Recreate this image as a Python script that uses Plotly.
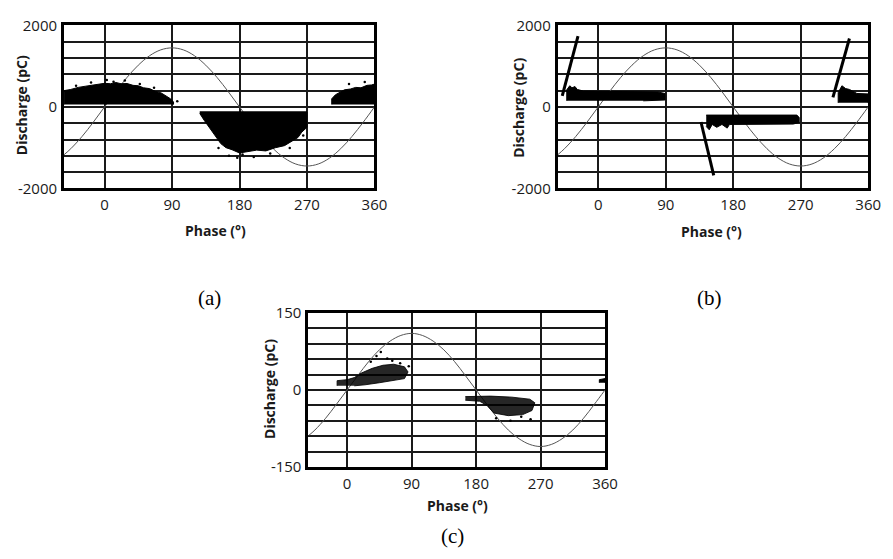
import plotly.graph_objects as go

# ---------------- data ----------------
phase_ref = [-54, -45, -30, -15, 0, 15, 30, 45, 60, 75, 90, 105, 120, 135, 150, 165,
             180, 195, 210, 225, 240, 255, 270, 285, 300, 315, 330, 345, 360]
ref_a = [-1173, -1025, -725, -375, 0, 375, 725, 1025, 1256, 1401, 1450, 1401, 1256, 1025, 725, 375,
         0, -375, -725, -1025, -1256, -1401, -1450, -1401, -1256, -1025, -725, -375, 0]
ref_b = [-1173, -1025, -725, -375, 0, 375, 725, 1025, 1256, 1401, 1450, 1401, 1256, 1025, 725, 375,
         0, -375, -725, -1025, -1256, -1401, -1450, -1401, -1256, -1025, -725, -375, 0]
ref_c = [-89, -78, -55, -28, 0, 28, 55, 78, 95, 106, 110, 106, 95, 78, 55, 28,
         0, -28, -55, -78, -95, -106, -110, -106, -95, -78, -55, -28, 0]

# (a) discharge clouds (outline of the dense regions)
a1_phase = [-54, -54, -45, -35, -25, -12, 0, 8, 15, 22, 30, 38, 45, 52, 60, 68, 75, 82, 88, 92, 92]
a1_q = [60, 400, 430, 480, 510, 550, 580, 570, 600, 570, 575, 530, 520, 470, 450, 380, 350, 270, 200, 120, 60]
a2_phase = [127, 270, 270, 263, 258, 250, 240, 228, 215, 203, 190, 180, 170, 162, 155, 147, 140, 133, 127]
a2_q = [-120, -120, -500, -620, -750, -830, -950, -1000, -1080, -1060, -1100, -1130, -1050, -1000, -900, -700, -500, -330, -160]
a3_phase = [303, 303, 308, 314, 320, 328, 335, 342, 350, 356, 360, 360]
a3_q = [60, 200, 300, 360, 420, 440, 480, 470, 530, 540, 560, 60]
# (a) stray points around the clouds
a_stray_phase = [-38, -18, 3, 12, 27, 47, 66, 97, 152, 166, 177, 184, 199, 221, 247, 265, 326, 347]
a_stray_q = [520, 600, 660, 620, 650, 560, 470, 140, -1010, -1200, -1250, -1170, -1230, -1140, -1010, -700, 560, 610]

# (b) discharge clouds
b1_phase = [-42, -42, -38, -35, -31, -28, -20, 0, 40, 80, 89, 89, 60]
b1_q = [150, 420, 520, 470, 500, 430, 390, 385, 375, 365, 330, 170, 150]
b2_phase = [144, 265, 268, 268, 260, 175, 172, 165, 158, 152, 148, 144]
b2_q = [-200, -200, -260, -380, -420, -430, -520, -430, -500, -430, -560, -480]
b3_phase = [320, 320, 325, 330, 335, 345, 360, 360]
b3_q = [100, 350, 520, 450, 430, 330, 320, 100]
b_streak1_phase = [-48, -27]
b_streak1_q = [270, 1740]
b_streak2_phase = [137, 154]
b_streak2_q = [-370, -1680]
b_streak3_phase = [313, 335]
b_streak3_q = [235, 1680]

# (c) discharge clouds
c1_phase = [-14, -14, 0, 10, 20, 35, 50, 65, 80, 85, 80, 65, 45, 25, 10]
c1_q = [8, 18, 20, 24, 33, 42, 48, 50, 45, 35, 22, 18, 14, 10, 8]
c2_phase = [165, 200, 230, 255, 262, 258, 245, 225, 205, 195, 185, 165]
c2_q = [-13, -12, -14, -18, -25, -40, -48, -50, -45, -30, -22, -20]
c3_phase = [352, 352, 360, 360]
c3_q = [14, 20, 22, 14]
c_stray_phase = [33, 41, 47, 56, 63, 74, 86, 208, 228, 243, 256]
c_stray_q = [55, 66, 74, 61, 57, 52, 46, -55, -60, -52, -57]

x_ticks = [0, 90, 180, 270, 360]
y_ticks_ab = [-2000, 0, 2000]
y_ticks_c = [-150, 0, 150]

# ---------------- figure ----------------
W, H = 893, 559
fig = go.Figure()

def cloud(xs, ys, xa, ya, color="black"):
    fig.add_trace(go.Scatter(x=xs, y=ys, xaxis=xa, yaxis=ya, mode="lines", fill="toself",
                             fillcolor=color, line=dict(color=color, width=1),
                             hoverinfo="skip", showlegend=False))

def ref(xs, ys, xa, ya):
    fig.add_trace(go.Scatter(x=xs, y=ys, xaxis=xa, yaxis=ya, mode="lines",
                             line=dict(color="#555555", width=1, shape="spline"),
                             hoverinfo="skip", showlegend=False))

def streak(xs, ys, xa, ya):
    fig.add_trace(go.Scatter(x=xs, y=ys, xaxis=xa, yaxis=ya, mode="lines",
                             line=dict(color="black", width=3),
                             hoverinfo="skip", showlegend=False))

def stray(xs, ys, xa, ya):
    fig.add_trace(go.Scatter(x=xs, y=ys, xaxis=xa, yaxis=ya, mode="markers",
                             marker=dict(color="black", size=2.5),
                             hoverinfo="skip", showlegend=False))

# panel a
ref(phase_ref, ref_a, "x", "y")
cloud(a1_phase, a1_q, "x", "y")
cloud(a2_phase, a2_q, "x", "y")
cloud(a3_phase, a3_q, "x", "y")
stray(a_stray_phase, a_stray_q, "x", "y")
# panel b
ref(phase_ref, ref_b, "x2", "y2")
cloud(b1_phase, b1_q, "x2", "y2")
cloud(b2_phase, b2_q, "x2", "y2")
cloud(b3_phase, b3_q, "x2", "y2")
streak(b_streak1_phase, b_streak1_q, "x2", "y2")
streak(b_streak2_phase, b_streak2_q, "x2", "y2")
streak(b_streak3_phase, b_streak3_q, "x2", "y2")
# panel c
ref(phase_ref, ref_c, "x3", "y3")
cloud(c1_phase, c1_q, "x3", "y3", "rgba(0,0,0,0.85)")
cloud(c2_phase, c2_q, "x3", "y3", "rgba(0,0,0,0.85)")
cloud(c3_phase, c3_q, "x3", "y3")
stray(c_stray_phase, c_stray_q, "x3", "y3")

tick_font = dict(family="Open Sans, Liberation Sans, sans-serif", size=15, color="#1a1a1a")
GRID = "#1a1a1a"

def xax(dom, anchor):
    return dict(domain=dom, anchor=anchor, range=[-54, 360], tickmode="array",
                tickvals=x_ticks, ticktext=[str(v) for v in x_ticks],
                showgrid=True, gridcolor=GRID, gridwidth=1.5, zeroline=False,
                showline=True, linecolor="black", linewidth=3, mirror=True,
                ticks="", tickfont=tick_font, ticklabelstandoff=1, fixedrange=True)

def yax(dom, anchor, rng, ticks, step):
    return dict(domain=dom, anchor=anchor, range=rng, tickmode="array",
                tickvals=ticks, ticktext=[str(v) for v in ticks],
                showgrid=True, gridcolor=GRID, gridwidth=1.5, zeroline=False,
                minor=dict(tickmode="linear", tick0=0, dtick=step, showgrid=True,
                           gridcolor=GRID, gridwidth=1.5, ticks=""),
                showline=True, linecolor="black", linewidth=3, mirror=True,
                ticks="", tickfont=tick_font, ticklabelstandoff=1, fixedrange=True)

dom_a_x = [65 / W, 380 / W]
dom_b_x = [566 / W, 881 / W]
dom_c_x = [313 / W, 614 / W]
dom_ab_y = [1 - 184 / H, 1 - 15 / H]
dom_c_y = [1 - 473 / H, 1 - 313 / H]

title_font = dict(family="Open Sans, Liberation Sans, sans-serif", size=14, color="#1a1a1a")
cap_font = dict(family="Liberation Serif, Times New Roman, serif", size=21, color="black")

def ann(text, x, y, font, angle=0, yanchor="middle"):
    return dict(text=text, x=x / W, y=1 - y / H, xref="paper", yref="paper",
                showarrow=False, font=font, textangle=angle, xanchor="center", yanchor=yanchor)

annotations = [
    ann("<b>Discharge (pC)</b>", 22, 98, title_font, -90),
    ann("<b>Phase (°)</b>", 219, 228, title_font),
    ann("<b>Discharge (pC)</b>", 526, 100, title_font, -90),
    ann("<b>Phase (°)</b>", 722, 229, title_font),
    ann("<b>Discharge (pC)</b>", 274, 392, title_font, -90),
    ann("<b>Phase (°)</b>", 464, 513, title_font),
    ann("(a)", 213, 298, cap_font),
    ann("(b)", 720, 298, cap_font),
    ann("(c)", 459, 559, cap_font, yanchor="bottom"),
]

fig.update_layout(
    width=W, height=H, margin=dict(l=0, r=0, t=0, b=0),
    paper_bgcolor="white", plot_bgcolor="white", showlegend=False,
    xaxis=xax(dom_a_x, "y"), yaxis=yax(dom_ab_y, "x", [-2000, 2000], y_ticks_ab, 400),
    xaxis2=xax(dom_b_x, "y2"), yaxis2=yax(dom_ab_y, "x2", [-2000, 2000], y_ticks_ab, 400),
    xaxis3=xax(dom_c_x, "y3"), yaxis3=yax(dom_c_y, "x3", [-150, 150], y_ticks_c, 30),
    annotations=annotations,
)

fig.write_html("out.html", config={"displayModeBar": False})
